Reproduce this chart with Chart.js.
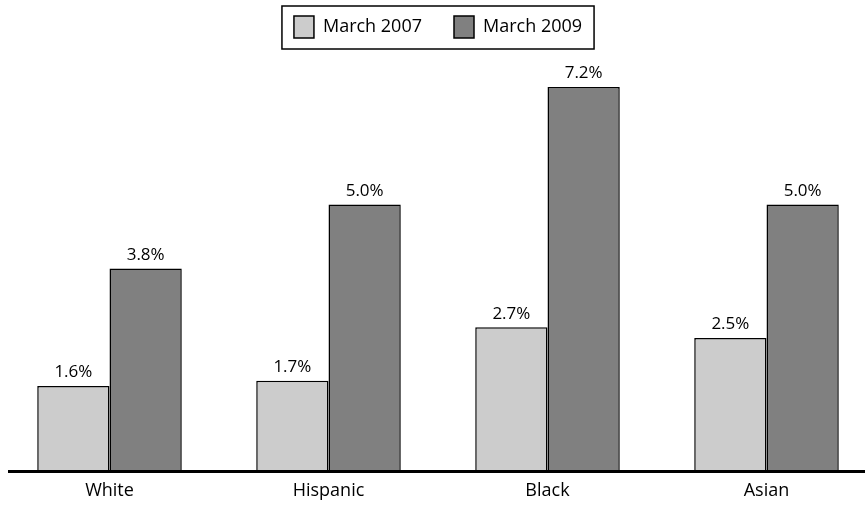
<!DOCTYPE html>
<html>
<head>
<meta charset="utf-8">
<script src="https://cdn.jsdelivr.net/npm/chart.js@4/dist/chart.umd.min.js"></script>
<style>
    html, body { margin: 0; padding: 0; background: #ffffff; overflow: hidden; }
    #wrap { width: 876px; height: 508px; }
</style>
</head>
<body>
<div id="wrap"><canvas id="rateChart" width="876" height="508"></canvas></div>
<script>
const categories = ['White', 'Hispanic', 'Black', 'Asian'];
const march2007 = [1.6, 1.7, 2.7, 2.5];
const march2009 = [3.8, 5.0, 7.2, 5.0];
const seriesNames = ['March 2007', 'March 2009'];
const FONT = '"Open Sans", "Noto Sans", sans-serif';

// values printed over each bar
const barLabels = {
    id: 'barLabels',
    afterDatasetsDraw(chart) {
        const ctx = chart.ctx;
        ctx.save();
        ctx.font = '17px ' + FONT;
        ctx.fillStyle = '#000000';
        ctx.textAlign = 'center';
        ctx.textBaseline = 'bottom';
        chart.data.datasets.forEach((ds, i) => {
            chart.getDatasetMeta(i).data.forEach((bar, j) => {
                ctx.fillText(ds.data[j].toFixed(1) + '%', bar.x, bar.y - 5);
            });
        });
        ctx.restore();
    }
};

// thick baseline + box round the legend
const frame = {
    id: 'frame',
    afterDraw(chart) {
        const ctx = chart.ctx;
        const y = chart.scales.y.getPixelForValue(0);
        ctx.save();
        ctx.strokeStyle = '#000000';
        ctx.lineWidth = 3;
        ctx.beginPath();
        ctx.moveTo(8, y);
        ctx.lineTo(chart.width, y);
        ctx.stroke();

        const boxes = chart.legend.legendHitBoxes;
        if (boxes && boxes.length) {
            const first = boxes[0];
            const last = boxes[boxes.length - 1];
            const left = first.left - 12;
            const right = last.left + last.width + 12;
            const top = first.top - 10;
            const bottom = first.top + first.height + 11;
            ctx.lineWidth = 1.5;
            ctx.strokeRect(left, top, right - left, bottom - top);
        }
        ctx.restore();
    }
};

new Chart(document.getElementById('rateChart'), {
    type: 'bar',
    data: {
        labels: categories,
        datasets: [{
            label: seriesNames[0],
            data: march2007,
            backgroundColor: '#cccccc',
            borderColor: '#000000',
            borderWidth: 1.5,
            borderSkipped: 'bottom'
        }, {
            label: seriesNames[1],
            data: march2009,
            backgroundColor: '#808080',
            borderColor: '#000000',
            borderWidth: 1.5,
            borderSkipped: 'bottom'
        }]
    },
    options: {
        responsive: false,
        animation: false,
        layout: { padding: { top: -16, bottom: 5 } },
        datasets: {
            bar: { categoryPercentage: 0.66, barPercentage: 1.0 }
        },
        scales: {
            x: {
                grid: { display: false },
                border: { display: false },
                ticks: { color: '#000000', font: { family: FONT, size: 18 }, padding: 1 }
            },
            y: {
                display: false,
                min: 0,
                max: 7.93
            }
        },
        plugins: {
            legend: {
                position: 'top',
                labels: {
                    color: '#000000',
                    font: { family: FONT, size: 18 },
                    boxWidth: 20,
                    boxHeight: 22,
                    padding: 32,
                    useBorderRadius: false
                }
            },
            tooltip: { enabled: false }
        }
    },
    plugins: [barLabels, frame]
});
</script>
</body>
</html>
